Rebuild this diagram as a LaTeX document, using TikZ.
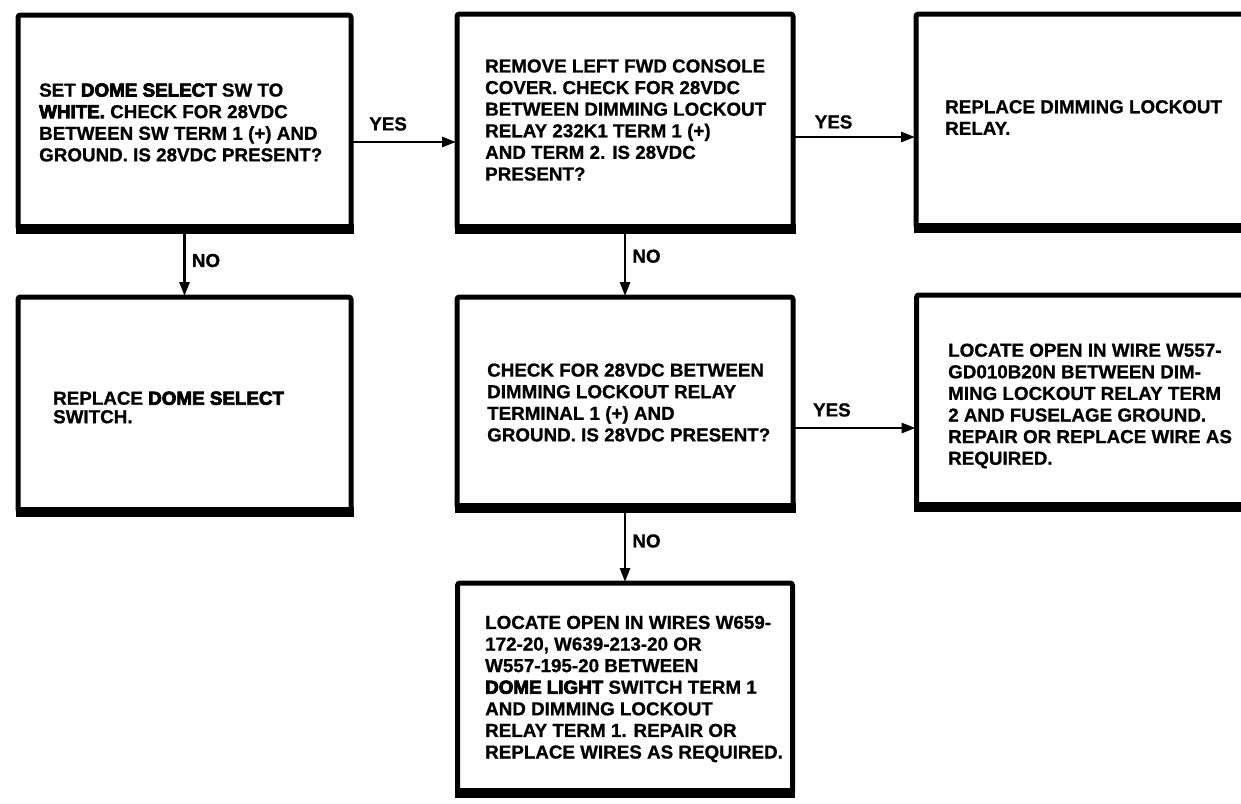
\documentclass[tikz,border=0pt]{standalone}
\usepackage{fontspec}
\setmainfont{Liberation Sans}[BoldFeatures={FakeBold=0.8}]
\newfontfamily\heavyfont{Liberation Sans}[BoldFeatures={FakeBold=4}]
\usetikzlibrary{arrows.meta,calc}
\newcommand\hv[1]{{\heavyfont\bfseries #1}}
\begin{document}
\begin{tikzpicture}[x=1pt,y=-1pt,
  box/.style={draw, line width=5pt, rounded corners=2.5pt, inner sep=0pt, outer sep=0pt},
  bot/.style={line width=9.5pt, shorten <=-2.5pt, shorten >=-2.5pt},
  txt/.style={anchor=west, align=left, inner sep=0pt, font=\bfseries\fontsize{18.8}{21.6}\selectfont},
  lbl/.style={inner sep=0pt, font=\bfseries\fontsize{18.8}{21.6}\selectfont},
  arr/.style={line width=2.8pt, shorten >=1pt, -{Triangle[length=14pt,width=10pt]}}]
\clip (0,0) rectangle (1241,803);
\fill[white] (0,0) rectangle (1241,803);
% boxes
\node[box, minimum width=333pt, minimum height=214pt] (A) at (184.5,122) {};
\node[box, minimum width=336pt, minimum height=215pt] (B) at (625,121.5) {};
\node[box, minimum width=384pt, minimum height=214pt] (C) at (1108,121) {};
\node[box, minimum width=333pt, minimum height=215pt] (D) at (184.5,404.5) {};
\node[box, minimum width=336pt, minimum height=211pt] (E) at (625,402.5) {};
\node[box, minimum width=384pt, minimum height=212pt] (F) at (1108.5,401) {};
\node[box, minimum width=335pt, minimum height=210pt] (G) at (625,688) {};
\foreach \n in {A,B,C,D,E,F,G}{\draw[bot] (\n.south west) -- (\n.south east);}
% texts
\node[txt] (tA) at (39,122.5) {SET \hv{DOME SELECT} SW TO\\\hv{WHITE.} CHECK FOR 28VDC\\BETWEEN SW TERM 1 (+) AND\\GROUND. IS 28VDC PRESENT?};
\node[txt] (tB) at (485,120) {REMOVE LEFT FWD CONSOLE\\COVER. CHECK FOR 28VDC\\BETWEEN DIMMING LOCKOUT\\RELAY 232K1 TERM 1 (+)\\AND TERM 2. IS 28VDC\\PRESENT?};
\node[txt] (tC) at (945,117.5) {REPLACE DIMMING LOCKOUT\\RELAY.};
\node[txt, font=\bfseries\fontsize{18.8}{18.5}\selectfont] (tD) at (53,407.5) {REPLACE \hv{DOME SELECT}\\SWITCH.};
\node[txt] (tE) at (487,402.5) {CHECK FOR 28VDC BETWEEN\\DIMMING LOCKOUT RELAY\\TERMINAL 1 (+) AND\\GROUND. IS 28VDC PRESENT?};
\node[txt] (tF) at (948,406) {LOCATE OPEN IN WIRE W557-\\GD010B20N BETWEEN DIM-\\MING LOCKOUT RELAY TERM\\2 AND FUSELAGE GROUND.\\REPAIR OR REPLACE WIRE AS\\REQUIRED.};
\node[txt] (tG) at (485,689) {LOCATE OPEN IN WIRES W659-\\172-20, W639-213-20 OR\\W557-195-20 BETWEEN\\\hv{DOME LIGHT} SWITCH TERM 1\\AND DIMMING LOCKOUT\\RELAY TERM 1. REPAIR OR\\REPLACE WIRES AS REQUIRED.};
% connectors
\coordinate (yab) at (0,142);
\coordinate (ybc) at (0,137);
\coordinate (yef) at (0,428);
\draw[arr] (A.east |- yab) -- (B.west |- yab) node[lbl, pos=0.35, anchor=south, yshift=10pt] (lab) {YES};
\draw[arr] (B.east |- ybc) -- (C.west |- ybc) node[lbl, pos=0.33, anchor=south, yshift=7pt] (lbc) {YES};
\draw[arr] (E.east |- yef) -- (F.west |- yef) node[lbl, pos=0.315, anchor=south, yshift=10pt] (lef) {YES};
\draw[arr] (A.south) ++(0,4) -- (D.north) node[lbl, pos=0.43, anchor=west, xshift=6pt] (lad) {NO};
\draw[arr] (B.south) -- (E.north) node[lbl, pos=0.4, anchor=west, xshift=6pt] (lbe) {NO};
\draw[arr] (E.south) -- (G.north) node[lbl, pos=0.44, anchor=west, xshift=6pt] (leg) {NO};
\end{tikzpicture}
\end{document}
